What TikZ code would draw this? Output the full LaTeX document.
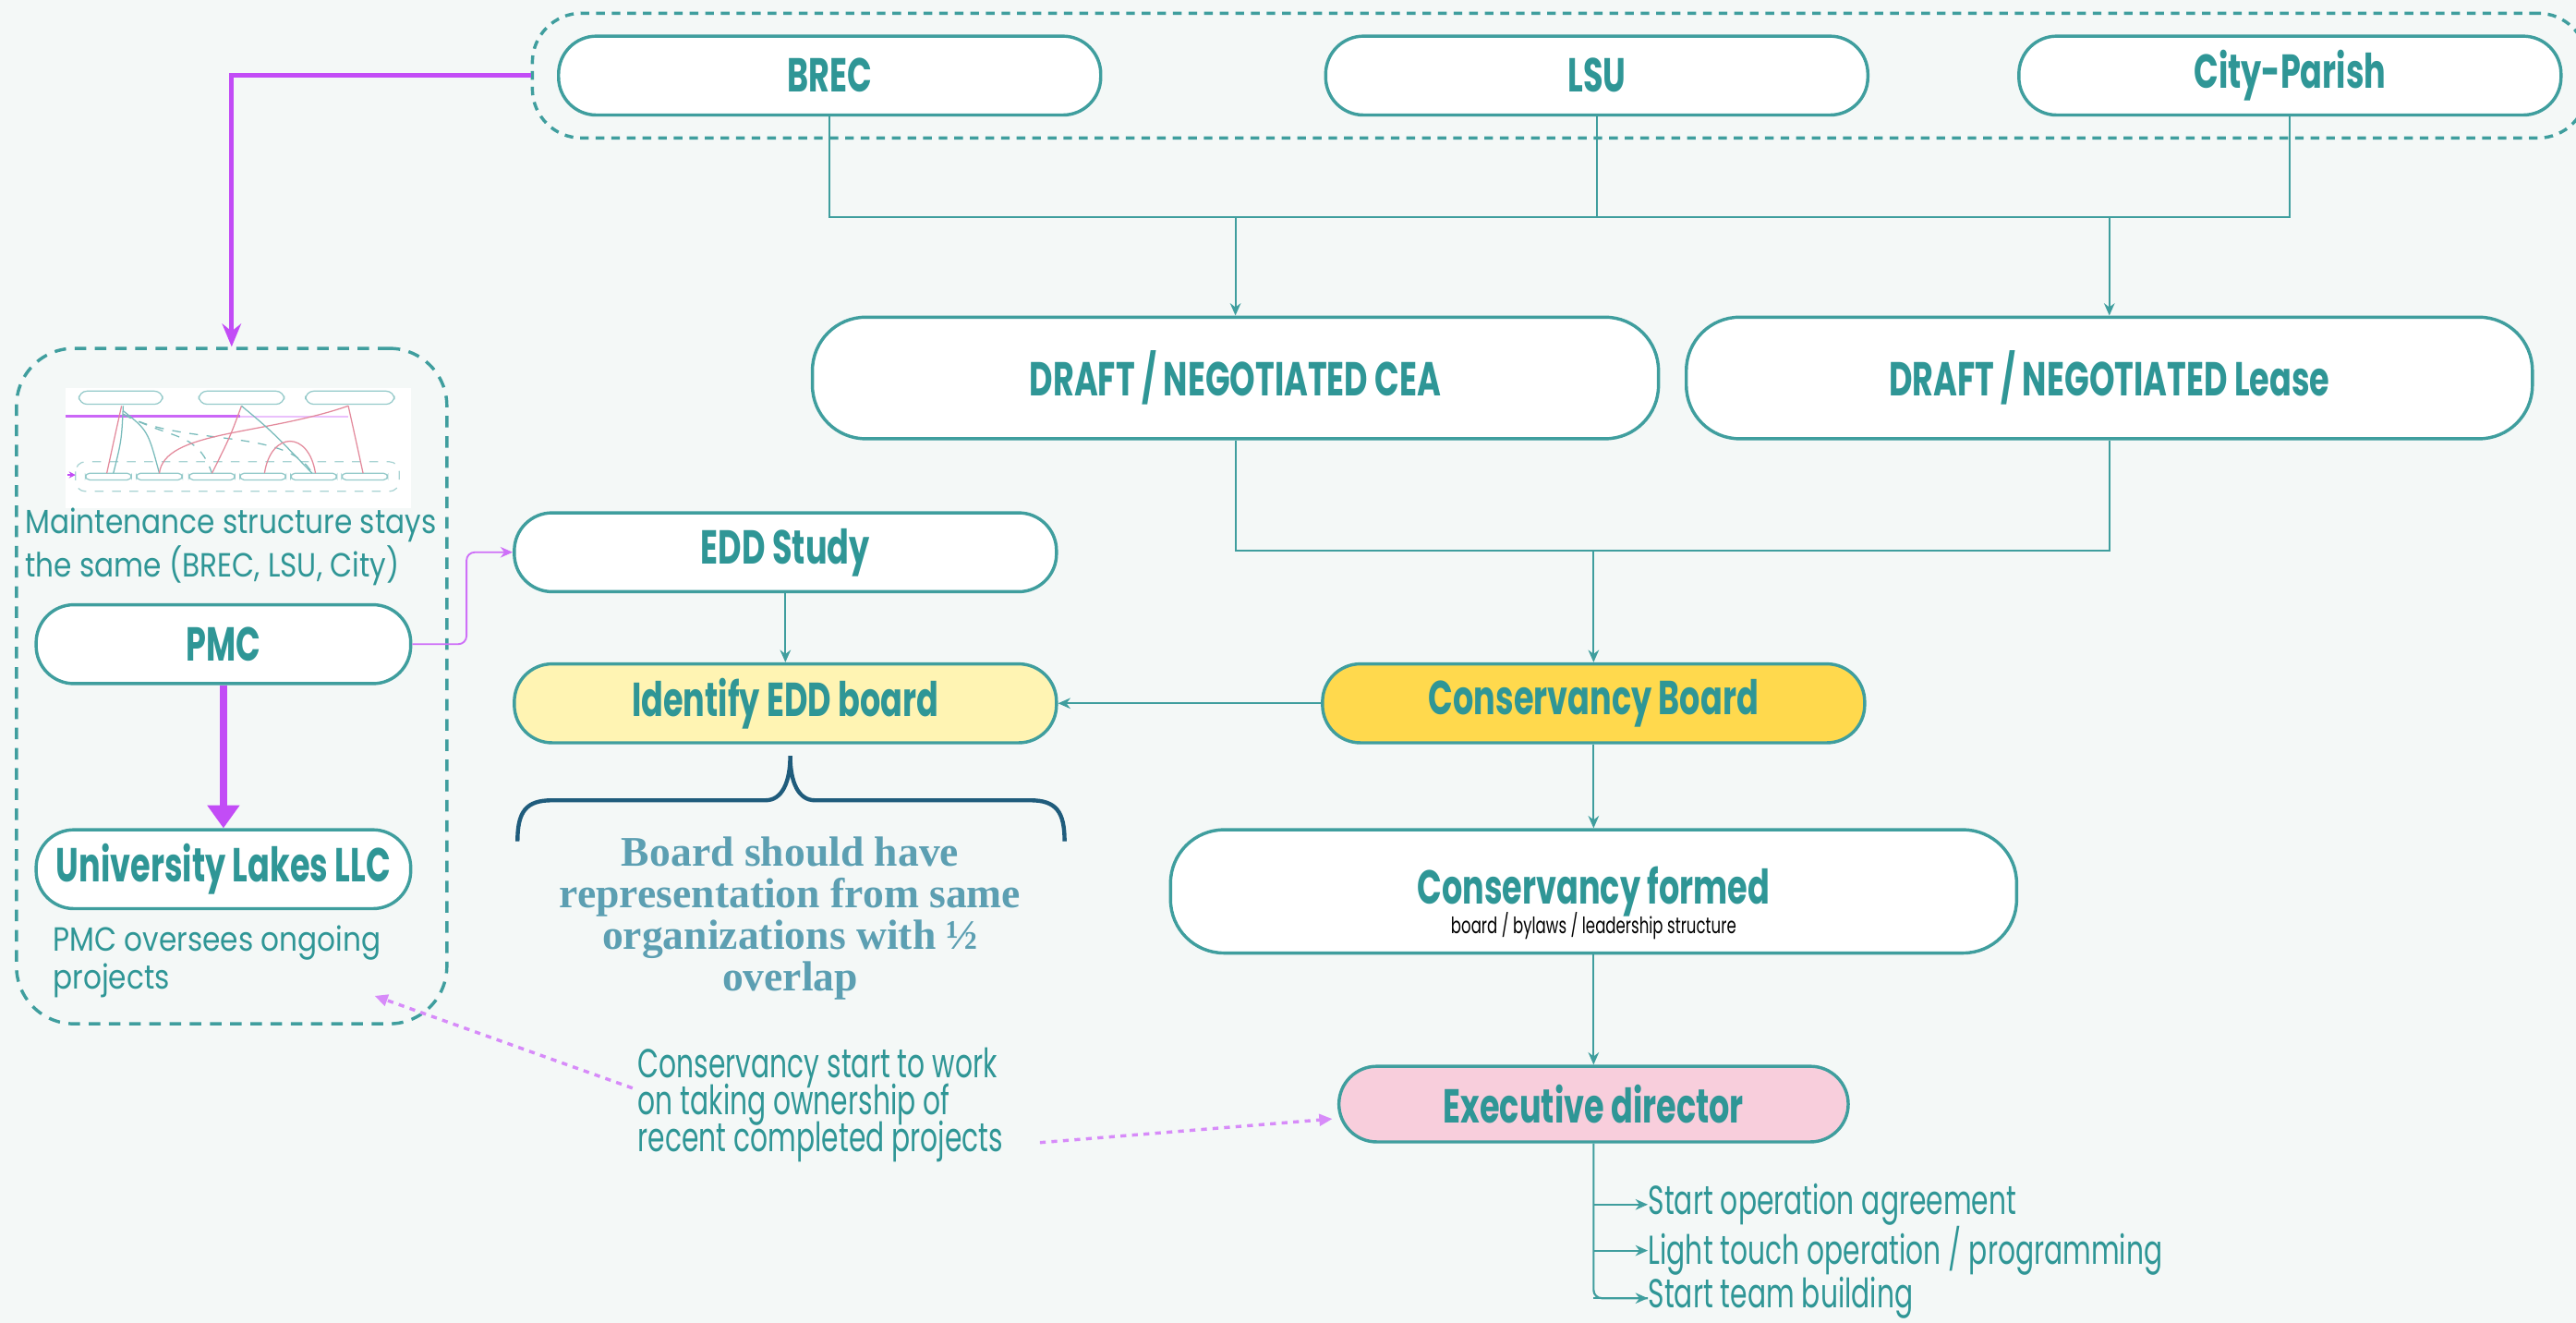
\documentclass[tikz,border=0pt]{standalone}
\usepackage{fontspec}
\setmainfont{Poppins}
\newfontfamily\condfont[FakeStretch=0.68]{Poppins}
\newfontfamily\semicond[FakeStretch=0.86]{Poppins}
\newfontfamily\serifnote{Liberation Serif}
\usepackage{tikz}
\usetikzlibrary{arrows.meta,positioning,calc,fit,backgrounds}
\definecolor{clTeal}{HTML}{2F9696}
\definecolor{clLine}{HTML}{3F9E9E}
\definecolor{clBg}{HTML}{F4F8F7}
\definecolor{clPurple}{HTML}{C24CF6}
\definecolor{clGold}{HTML}{FFD94D}
\definecolor{clCream}{HTML}{FFF4B3}
\definecolor{clPink}{HTML}{F8CEDC}
\definecolor{clBrace}{HTML}{1F5C7C}
\definecolor{clNote}{HTML}{5C9FB2}
\definecolor{clThumbRed}{HTML}{E38A9C}
\newcommand{\tightlines}{\lineskiplimit-10pt\relax}
\tikzset{
  pill/.style={rectangle, rounded corners=4.6mm, draw=clLine, line width=1.1pt,
               fill=white, text=clTeal, align=center, inner sep=0pt,
               minimum width=66mm, minimum height=9.6mm,
               font=\condfont\bfseries\fontsize{16.5}{19}\selectfont},
  bigpill/.style={pill, rounded corners=6.5mm, minimum width=103mm, minimum height=14.8mm},
  sidepill/.style={pill, minimum width=45.6mm},
  group/.style={draw=clLine, line width=1.1pt, dash pattern=on 3pt off 2.4pt,
                rounded corners=6mm},
  link/.style={draw=clLine, line width=0.7pt},
  flow/.style={link, -{Stealth[length=1.5mm,width=1.3mm]}},
  purpflow/.style={-{Stealth[length=2.8mm,width=2.3mm]}, draw=clPurple, line width=1.5pt},
  purpthin/.style={-{Stealth[length=1.5mm,width=1.3mm]}, draw=clPurple!80, line width=0.6pt},
  purpthick/.style={-{Triangle[length=2.8mm,width=3.8mm]}, draw=clPurple, line width=2.8pt},
  hint/.style={-{Triangle[length=1.6mm,width=1.4mm]}, draw=clPurple!65, line width=1.1pt,
               dash pattern=on 2pt off 2pt},
  note/.style={align=left, text=clTeal, inner sep=0pt,
               font=\condfont\fontsize{14}{12.8}\selectfont\tightlines},
  subnote/.style={inner sep=0pt, text=black,
                  font=\condfont\fontsize{7.8}{8}\selectfont},
  sidenote/.style={align=left, text=clTeal, inner sep=0pt,
                   font=\semicond\fontsize{11.6}{13}\selectfont},
  thumb/.style={line width=0.4pt},
}

\begin{document}
\begin{tikzpicture}[x=0.2mm, y=-0.2mm]
  \fill[clBg] (0,0) rectangle (1568,805);
  \useasboundingbox (0,0) rectangle (1568,805);

  % partners
  \node[pill] (brec) at (505,46) {BREC};
  \node[pill, right=27mm of brec] (lsu) {LSU};
  \node[pill, right=18mm of lsu] (city) {City-Parish};
  \node[group, fit=(brec)(lsu)(city), inner xsep=3mm, inner ysep=2.6mm] (partners) {};

  % agreements
  \node[bigpill] (cea) at (752,230) {DRAFT / NEGOTIATED CEA};
  \node[bigpill, right=3mm of cea] (lease) {DRAFT / NEGOTIATED Lease};
  \coordinate (busA) at (0,132);
  \draw[link] (brec.south) |- (busA -| city.south) -- (city.south);
  \draw[link] (lsu.south) -- (lsu.south |- busA);
  \draw[flow] (cea.north |- busA) -- (cea.north);
  \draw[flow] (lease.north |- busA) -- (lease.north);

  % conservancy chain
  \node[pill, fill=clGold] (board) at (970,428) {Conservancy Board};
  \coordinate (busB) at (0,335);
  \draw[link] (cea.south) |- (busB -| lease.south) -- (lease.south);
  \draw[flow] (board.north |- busB) -- (board.north);
  \node[pill, fill=clCream, left=32mm of board] (ident) {Identify EDD board};
  \node[pill, above=8.4mm of ident] (edd) {EDD Study};
  \draw[flow] (board) -- (ident);
  \draw[flow] (edd) -- (ident);
  \node[bigpill, minimum height=15mm, below=10.2mm of board] (formed) {Conservancy formed};
  \node[subnote] (formedSub) at ($(formed.center)+(0,21)$) {board / bylaws / leadership structure};
  \draw[flow] (board) -- (formed);
  \node[pill, fill=clPink, minimum width=62mm, minimum height=9.2mm, below=13.4mm of formed] (exec)
    {Executive director};
  \draw[flow] (formed) -- (exec);

  % first steps of the director
  \node[note, anchor=west] (opAgr) at (1003,733) {Start operation agreement};
  \node[note, anchor=west] (light) at (1003,761) {Light touch operation / programming};
  \node[note, anchor=west] (team) at (1003,790) {Start team building};
  \draw[link, rounded corners=1mm] (exec.south) |- (team.west);
  \draw[flow] (exec.south |- opAgr.west) -- (opAgr.west);
  \draw[flow] (exec.south |- light.west) -- (light.west);
  \draw[flow] (exec.south |- team.west) -- (team.west);

  % brace and board note
  \draw[draw=clBrace, line width=1.4pt]
    (315,512) .. controls (315,494) and (320,487) .. (336,487) -- (466,487)
    .. controls (476,487) and (481,476) .. (481,460)
    .. controls (481,476) and (486,487) .. (496,487) -- (627,487)
    .. controls (643,487) and (648,494) .. (648,512);
  \node[align=center, text=clNote, font=\serifnote\bfseries\fontsize{14.6}{14.4}\selectfont]
    (boardNote) at (481,559)
    {Board should have\\representation from same\\organizations with ½\\overlap};

  % maintenance side
  \node[group, rounded corners=7mm, dash pattern=on 4pt off 3pt,
        minimum width=52.4mm, minimum height=82.2mm] (side) at (141,417.5) {};
  \draw[purpflow] (partners.west) -| (side.north);

  % thumbnail of the maintenance map
  \fill[white] (40,236) rectangle (250,309);
  \foreach \xa/\xb in {48/99, 121/173, 186/240}
    \draw[thumb, draw=clLine!55, rounded corners=1mm] (\xa,238) rectangle (\xb,246);
  \draw[clPurple!85, line width=1pt] (40,253.5) -- (146,253.5);
  \draw[clPurple!35, line width=0.5pt] (146,253.5) -- (212,253.5);
  \draw[thumb, draw=clLine!45, dashed, rounded corners=1.2mm] (46,281) rectangle (243,299);
  \foreach \xa/\xb in {52/80, 83/111, 115/143, 146/174, 177/205, 208/236}
    \draw[thumb, draw=clLine!55, rounded corners=0.5mm] (\xa,288) rectangle (\xb,292);
  \draw[thumb, draw=clThumbRed] (74,247) .. controls (70,265) .. (65,288);
  \draw[thumb, draw=clLine!70] (75,247) .. controls (74,268) .. (69,288);
  \draw[thumb, draw=clLine!70] (75,250) .. controls (90,262) .. (97,288);
  \draw[thumb, draw=clLine!70, dashed] (75,252) .. controls (105,268) and (120,262) .. (129,288);
  \draw[thumb, draw=clLine!70, dashed] (75,252) .. controls (110,272) and (175,260) .. (190,288);
  \draw[thumb, draw=clThumbRed] (97,288) .. controls (100,262) and (160,265) .. (212,247);
  \draw[thumb, draw=clThumbRed] (147,247) .. controls (140,266) .. (129,288);
  \draw[thumb, draw=clLine!70] (147,247) .. controls (165,262) .. (190,288);
  \draw[thumb, draw=clThumbRed] (161,288) .. controls (165,262) and (188,262) .. (192,288);
  \draw[thumb, draw=clThumbRed] (212,247) .. controls (216,265) .. (221,288);
  \draw[thumb, draw=clPurple, -{Stealth[length=0.8mm,width=0.8mm]}] (41,289) -- (46,289);

  \node[sidenote, anchor=north west] (maint) at (15,309)
    {Maintenance structure stays\\the same (BREC, LSU, City)};
  \node[sidepill] (pmc) at (136,392) {PMC};
  \node[sidepill, below=17.4mm of pmc] (ullc) {University Lakes LLC};
  \draw[purpthick] (pmc) -- (ullc);
  \node[sidenote, anchor=north west] (pmcNote) at (32,563)
    {PMC oversees ongoing\\projects};
  \draw[purpthin, rounded corners=1mm] (pmc.east) -- ++(33,0) |- (edd.west);

  % handover note
  \node[note, anchor=north west] (handover) at (388,637)
    {Conservancy start to work\\on taking ownership of\\recent completed projects};
  \coordinate (sideTip) at (228,606);
  \draw[hint] ($(handover.west)+(-3,-10)$) -- (sideTip);
  \draw[hint] ($(handover.south east)+(22,-12)$) -- ($(exec.west)+(-3,9)$);
\end{tikzpicture}
\end{document}
